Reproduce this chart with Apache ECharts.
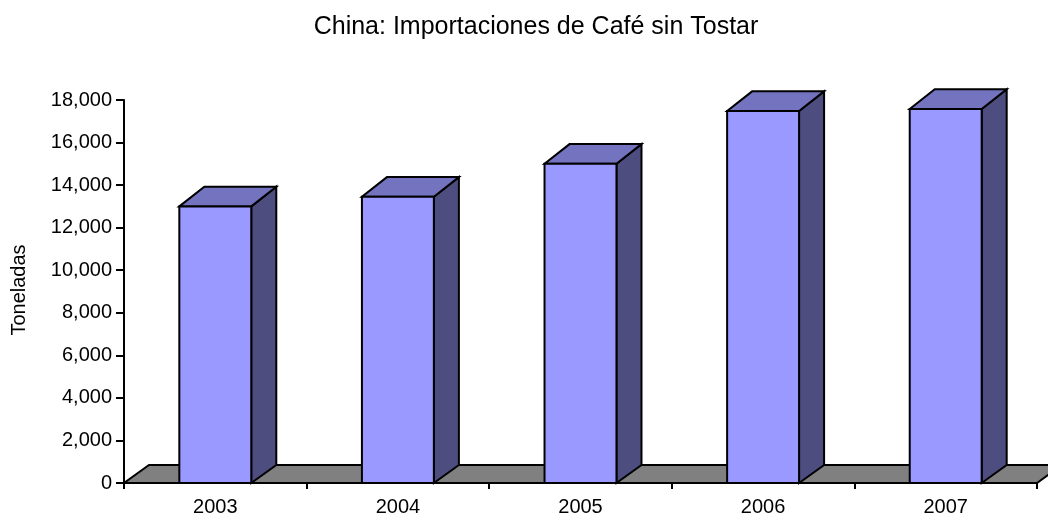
<!DOCTYPE html>
<html>
<head>
<meta charset="utf-8">
<script src="https://cdn.jsdelivr.net/npm/echarts@6/dist/echarts.min.js"></script>
<style>html,body{margin:0;padding:0;background:#fff}#c{width:1048px;height:517px}</style>
</head>
<body>
<div id="c"></div>
<script>
var categories = ['2003', '2004', '2005', '2006', '2007'];
var values = [13000, 13450, 15000, 17480, 17580];
var yTicks = { min: 0, max: 18000, interval: 2000 };
var titleText = 'China: Importaciones de Café sin Tostar';
var yName = 'Toneladas';

var FONT = '"Liberation Sans", Arial, sans-serif';
var chart = echarts.init(document.getElementById('c'), null, { renderer: 'canvas' });

function fmt(v) { return v.toString().replace(/\B(?=(\d{3})+(?!\d))/g, ','); }

var barData = values.map(function (v, i) { return [i, v]; });

chart.setOption({
  animation: false,
  backgroundColor: '#ffffff',
  title: {
    text: titleText,
    left: 531, top: 10, textAlign: 'center',
    textStyle: { fontFamily: FONT, fontSize: 25, fontWeight: 'normal', color: '#000' }
  },
  graphic: [{
    type: 'text', x: 19, y: 290, rotation: Math.PI / 2,
    style: { text: yName, fontFamily: FONT, fontSize: 20, fill: '#000', textAlign: 'center', textVerticalAlign: 'middle' }
  }],
  grid: { left: 124, right: 11, top: 100, bottom: 34, containLabel: false },
  xAxis: {
    type: 'category', data: categories, boundaryGap: true,
    axisLine: { lineStyle: { color: '#000', width: 2 } },
    axisTick: { show: true, length: 6, lineStyle: { color: '#000', width: 2 } },
    axisLabel: { fontFamily: FONT, fontSize: 20, color: '#000', margin: 14 },
    splitLine: { show: false }
  },
  yAxis: {
    type: 'value', min: yTicks.min, max: yTicks.max, interval: yTicks.interval,
    axisLine: { show: true, lineStyle: { color: '#000', width: 2 } },
    axisTick: { show: true, length: 8, lineStyle: { color: '#000', width: 2 } },
    axisLabel: { fontFamily: FONT, fontSize: 20, color: '#000', margin: 12, formatter: fmt },
    splitLine: { show: false }
  },
  series: [
    {
      type: 'custom', z: 1, clip: false, silent: true,
      data: [[0, 0]],
      renderItem: function (params, api) {
        var cs = params.coordSys;
        var band = api.size([1, 0])[0];
        var dx = band * 0.137, dy = -band * 0.0985;
        var yb = cs.y + cs.height;
        return {
          type: 'polygon',
          shape: { points: [[cs.x, yb], [cs.x + cs.width, yb], [cs.x + cs.width + dx, yb + dy], [cs.x + dx, yb + dy]] },
          style: { fill: '#808080', stroke: '#000', lineWidth: 2 }
        };
      }
    },
    {
      type: 'custom', z: 3, clip: false, silent: true,
      encode: { x: 0, y: 1 },
      data: barData,
      renderItem: function (params, api) {
        var idx = api.value(0), v = api.value(1);
        var top = api.coord([idx, v]);
        var base = api.coord([idx, 0]);
        var band = api.size([1, 0])[0];
        var bw = band * 0.394;
        var dx = band * 0.137, dyT = -band * 0.108, dyB = -band * 0.0985;
        var x0 = top[0] - bw / 2, x1 = top[0] + bw / 2;
        var yt = top[1], yb = base[1];
        var st = { stroke: '#000', lineWidth: 2, lineJoin: 'miter' };
        return {
          type: 'group',
          children: [
            { type: 'polygon', shape: { points: [[x1, yb], [x1 + dx, yb + dyB], [x1 + dx, yt + dyT], [x1, yt]] },
              style: Object.assign({ fill: '#4D4D80' }, st) },
            { type: 'polygon', shape: { points: [[x0, yt], [x0 + dx, yt + dyT], [x1 + dx, yt + dyT], [x1, yt]] },
              style: Object.assign({ fill: '#7373BF' }, st) },
            { type: 'rect', shape: { x: x0, y: yt, width: bw, height: yb - yt },
              style: Object.assign({ fill: '#9999FF' }, st) }
          ]
        };
      }
    }
  ]
});
</script>
</body>
</html>
